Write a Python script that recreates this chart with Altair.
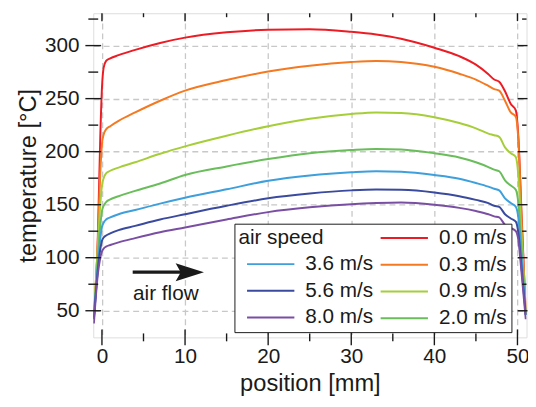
import altair as alt
import pandas as pd

# ---- data ----
positions = [-0.97, -0.5, -0.2, 0.0, 0.2, 0.5, 1, 2, 4, 7, 10, 15, 20, 25, 30, 33, 36, 40,
             43, 45, 46.5, 47.2, 47.8, 48.5, 49.2, 49.8, 50.1, 50.5, 51.0]

t_00 = [44, 118, 214, 260, 279, 285.5, 288, 291, 296, 302.5, 307.5, 312.5, 315, 315.5, 313, 310.5, 306.5, 298,
        290, 282, 273, 268, 266, 257, 245, 239, 215, 140, 47]
t_03 = [44, 115, 180, 207, 216, 221, 224, 229, 237, 248, 257.5, 267.5, 275.5, 281, 284.5, 285.5, 284.5, 280,
        273.5, 268, 262, 259, 257.5, 248, 237, 233, 212, 135, 47]
t_09 = [44, 110, 150, 168, 175, 179.5, 182, 185, 190, 198, 205, 215, 224, 231, 235.5, 237, 236.5, 232.5,
        227, 222, 217, 215.5, 214, 204, 198.5, 195, 178, 120, 47]
t_20 = [44, 100, 130, 144, 149, 152.5, 155, 158, 163, 170, 178, 186, 193, 198.5, 201.5, 202.5, 202, 198.5,
        194.5, 190, 185.5, 183, 181.5, 173, 168, 164, 152, 108, 46]
t_36 = [44, 92, 118, 129, 133, 136, 138, 141, 145, 151, 156.5, 164.5, 172.5, 177.5, 180.5, 181.5, 181, 178,
        174.5, 170.5, 167, 165, 163.5, 156, 151.5, 148, 138, 100, 46]
t_56 = [42, 88, 108, 116, 119, 121, 123, 126, 130, 136, 141, 149, 156, 160.5, 163.5, 164.3, 164, 161.5,
        158, 154.5, 151.5, 149, 148, 141, 137, 134, 124, 90, 46]
t_80 = [38, 84, 100, 106, 108.5, 110.5, 112, 114.5, 118.5, 124, 128.5, 136, 143, 147.5, 150.5, 151.5, 152, 150,
        147, 144, 141, 139, 138, 131, 128, 125, 117, 85, 42]

speeds_low = ["0.0 m/s", "0.3 m/s", "0.9 m/s", "2.0 m/s"]
speeds_high = ["3.6 m/s", "5.6 m/s", "8.0 m/s"]
colors_low = ["#ed1c24", "#f47920", "#a6ce39", "#6abd5b"]
colors_high = ["#3d9fdb", "#3a4b9f", "#7a4fa3"]

x_major = [0, 10, 20, 30, 40, 50]
x_minor = [5, 15, 25, 35, 45]
y_major = [50, 100, 150, 200, 250, 300]
y_minor = [75, 125, 175, 225, 275, 325]

arrow_x = [3.7, 10.0]
arrow_head_x = [10.57]
arrow_y = [86.3]
note_x = [3.75]
note_y = [60]
note_text = ["air flow"]

x_domain = [-1.044, 51.09]
y_domain = [24.9, 330.5]

# ---- tables ----
def long(series_list, names):
    rows = []
    for name, vals in zip(names, series_list):
        for p, v in zip(positions, vals):
            rows.append({"pos": p, "temp": v, "speed": name})
    return pd.DataFrame(rows)

df_low = long([t_00, t_03, t_09, t_20], speeds_low)
df_high = long([t_36, t_56, t_80], speeds_high)

FONT = "Liberation Sans"
INK = "#1a1a1a"
W, H = 439.5, 328.8

xs = alt.Scale(domain=x_domain, nice=False, zero=False)
ys = alt.Scale(domain=y_domain, nice=False, zero=False)

x_main = alt.Axis(orient="bottom", values=x_major, grid=True, gridDash=[6, 4], gridColor="#c8c8c8",
                  gridWidth=1.3, domain=False, ticks=False, tickSize=0, labelFont=FONT, labelFontSize=21,
                  labelColor=INK, labelPadding=9, labelFlush=False, title="position [mm]", titleFont=FONT,
                  titleFontSize=24, titleFontWeight="normal", titleColor=INK, titlePadding=5)
y_main = alt.Axis(orient="left", values=y_major, grid=True, gridDash=[6, 4], gridColor="#c8c8c8",
                  gridWidth=1.3, domain=False, ticks=False, tickSize=0, labelFont=FONT, labelFontSize=21,
                  labelColor=INK, labelPadding=14.5, labelFlush=False, title="temperature [°C]",
                  titleFont=FONT, titleFontSize=24, titleFontWeight="normal", titleColor=INK,
                  titlePadding=4)

def X(field):
    return alt.X(field, scale=xs, axis=x_main)

def Y(field):
    return alt.Y(field, scale=ys, axis=y_main)

LINE_SYMBOL = "M-4.8,0H4.8"

legend_low = alt.Legend(orient="none", legendX=143.2, legendY=213.5, direction="vertical",
                        title="air speed", titleOrient="left", titleAnchor="start", titlePadding=70.8,
                        titleFont=FONT, titleFontSize=21, titleFontWeight="normal", titleColor=INK,
                        labelFont=FONT, labelFontSize=21, labelColor=INK, labelOffset=24.6,
                        symbolType=LINE_SYMBOL, symbolSize=100, symbolStrokeWidth=2,
                        rowPadding=5.1, padding=4, strokeColor=INK, fillColor="white", zindex=1)
legend_high = alt.Legend(orient="none", legendX=169.5, legendY=244.0, direction="vertical",
                         title=None, labelFont=FONT, labelFontSize=21, labelColor=INK, labelOffset=24.6,
                         symbolType=LINE_SYMBOL, symbolSize=100, symbolStrokeWidth=2,
                         rowPadding=5.1, padding=0, zindex=2)

lines_low = alt.Chart(df_low).mark_line(strokeWidth=2, interpolate="monotone", clip=True).encode(
    x=X("pos:Q"), y=Y("temp:Q"),
    stroke=alt.Stroke("speed:N", scale=alt.Scale(domain=speeds_low, range=colors_low), legend=legend_low),
    order=alt.Order("pos:Q"),
)

lines_high = alt.Chart(df_high).mark_line(strokeWidth=2, interpolate="monotone", clip=True).encode(
    x=X("pos:Q"), y=Y("temp:Q"),
    color=alt.Color("speed:N", scale=alt.Scale(domain=speeds_high, range=colors_high), legend=legend_high),
    order=alt.Order("pos:Q"),
)

# tick marks drawn from the tick lists through the scales (they cross the frame like the reference)
def hticks(values, a, b):
    return alt.Chart(pd.DataFrame({"v": values})).mark_rule(color=INK, strokeWidth=1.4).encode(
        y=Y("v:Q"), x=alt.value(a), x2=alt.value(b))

def vticks(values, a, b):
    return alt.Chart(pd.DataFrame({"v": values})).mark_rule(color=INK, strokeWidth=1.4).encode(
        x=X("v:Q"), y=alt.value(a), y2=alt.value(b))

ticks = [
    hticks(y_major, -8, 8), hticks(y_minor, -5, 5),
    hticks(y_major, W - 9, W + 1), hticks(y_minor, W - 4.5, W),
    vticks(x_major, H - 8, H + 8), vticks(x_minor, H - 4, H + 4),
    vticks(x_major, 0, 8), vticks(x_minor, 0, 4),
]

arrow_df = pd.DataFrame({"x": arrow_x, "y": arrow_y * len(arrow_x)})
shaft = alt.Chart(arrow_df).mark_line(color=INK, strokeWidth=3.3).encode(x=X("x:Q"), y=Y("y:Q"))
head = alt.Chart(pd.DataFrame({"x": arrow_head_x, "y": arrow_y})).mark_point(
    shape="M1,0L-1,-0.63L-0.64,0L-1,0.63Z", size=824, filled=True, opacity=1, color=INK, strokeWidth=0
).encode(x=X("x:Q"), y=Y("y:Q"))
note = alt.Chart(pd.DataFrame({"x": note_x, "y": note_y, "t": note_text})).mark_text(
    align="left", baseline="alphabetic", font=FONT, fontSize=21, color=INK
).encode(x=X("x:Q"), y=Y("y:Q"), text="t:N")

chart = alt.layer(lines_low, lines_high, *ticks, shaft, head, note).properties(
    width=W, height=H,
    autosize=alt.AutoSizeParams(type="none"),
    padding={"left": 86.5, "top": 2.5, "right": 1.5, "bottom": 60},
).configure_view(stroke=INK, strokeWidth=1.5).configure(background="white")

chart.save("out.html", embed_options={"renderer": "svg", "actions": False})
